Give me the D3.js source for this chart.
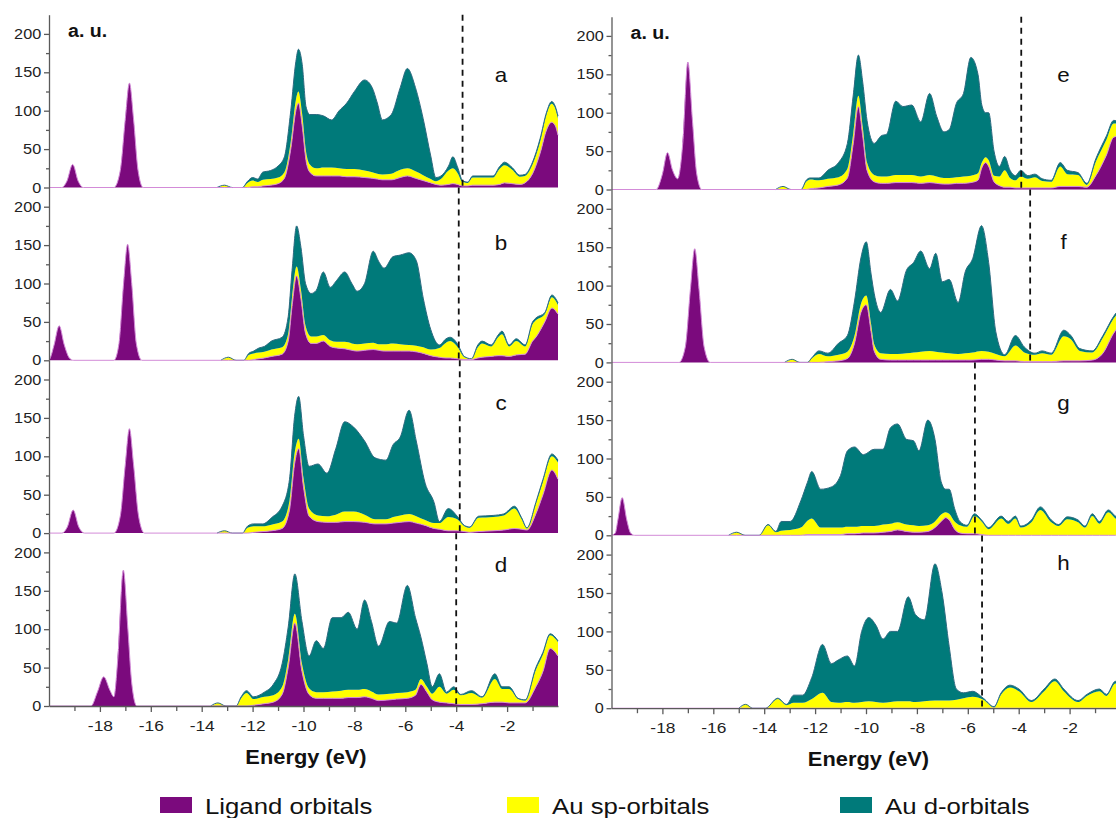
<!DOCTYPE html>
<html lang="en">
<head>
  <meta charset="UTF-8">
  <title>Projected DOS panels</title>
  <script src="https://d3js.org/d3.v7.min.js"></script>
  <style>
    body { margin: 0; background: #fff; }
    svg { display: block; font-family: Arial, "Liberation Sans", sans-serif; }
  </style>
</head>
<body>
<script>
  // ---- data, one energy grid + three layers per panel (a.u.) ----
  const energyA = [-20,-19.5,-19.3,-19.07,-18.85,-18.65,-17.45,-17.2,-17.0,-16.84,-16.68,-16.5,-16.3,-13.4,-13.1,-12.8,-12.4,-12.2,-12.0,-11.8,-11.6,-11.3,-11.0,-10.75,-10.5,-10.3,-10.2,-10.05,-9.9,-9.75,-9.5,-9.2,-8.9,-8.6,-8.3,-8.0,-7.6,-7.3,-7.1,-6.9,-6.55,-6.2,-5.92,-5.6,-5.3,-5.0,-4.8,-4.6,-4.3,-4.13,-3.95,-3.75,-3.55,-3.35,-2.55,-2.3,-2.1,-1.8,-1.5,-1.3,-1.0,-0.7,-0.45,-0.25,-0.1,0];
  const ligandA = [0,0,8,30,8,0,0,22,90,136,90,22,0, 0,0,0,0, 0,1,1,2,3,5,12,50,100,110,80,35,20,15,15,15,15,14,14,13,12,11,10,10,13,15,12,9,6,4,3,4,5,4,2,2,3,3,4,6,5,4,6,18,45,75,85,80,68];
  const spA = [0,0,0,0,0,0,0,0,0,0,0,0,0,0, 3, 0,0, 6,8,6,8,8,8,8,10,14,15,15,12,10,10,11,11,10,10,10,9,8,7,7,8,10,10,9,7,5,4,8,18,20,15,5,4,10,10,20,23,18,10,9,12,15,20,24,22,22];
  const dA = [0,0,0,0,0,0,0,0,0,0,0,0,0,0,0,0,0, 2,4,4,10,11,15,20,40,50,55,65,58,65,70,67,62,75,86,101,118,110,92,71,77,107,130,109,74,30,5,4,6,15,8,2,1,2,2,3,4,3,2,2,3,4,3,3,3,3];

  const energyB = [-20,-19.95,-19.8,-19.6,-19.4,-19.2,-19.05,-17.45,-17.25,-17.07,-16.91,-16.75,-16.57,-16.35,-13.25,-12.95,-12.65,-12.35,-12.15,-11.96,-11.75,-11.54,-11.26,-10.84,-10.6,-10.45,-10.27,-10.1,-9.92,-9.7,-9.5,-9.22,-8.95,-8.7,-8.38,-8.1,-7.89,-7.6,-7.26,-7.05,-6.83,-6.48,-6.2,-5.85,-5.57,-5.29,-5.0,-4.66,-4.4,-4.24,-3.96,-3.68,-3.4,-3.15,-2.98,-2.63,-2.35,-2.2,-1.92,-1.64,-1.29,-1.0,-0.87,-0.52,-0.24,0];
  const ligandB = [0,3,20,45,20,3,0,0,22,100,151,100,22,0, 0,0,0,0, 0,1,2,3,5,8,25,70,110,80, 35,22,22,25,18,16,15,13,12,13, 14,13,12,12,12,12,11,9,6,4, 3,3,2,1,1,3,4,5,6,6, 5,7,8,25,30,50,68,60];
  const spB = [0,0,0,0,0,0,0,0,0,0,0,0,0,0,0, 4, 0,0, 7,8,8,8,9,9,10,12,12,12, 10,9,9,8,8,8,9,9,9,9, 9,8,9,10,9,8,8,8,8,12, 20,22,16,3,1,14,18,13,24,28, 13,18,10,22,22,10,14,12];
  const dB = [0,0,0,0,0,0,0,0,0,0,0,0,0,0,0,0,0,0, 2,3,6,7,11,13,22,35,53,55, 55,56,60,82,69,80,91,78,69,78, 119,108,99,113,116,120,111,63,26,4, 5,5,4,1,0,3,3,2,3,4, 2,3,2,3,3,2,3,3];

  const energyC = [-20,-19.5,-19.28,-19.05,-18.83,-18.6,-17.45,-17.2,-17.0,-16.84,-16.68,-16.48,-16.25,-13.4,-13.1,-12.8,-12.4,-12.2,-11.96,-11.6,-11.26,-10.84,-10.55,-10.35,-10.19,-10.0,-9.78,-9.43,-9.08,-8.73,-8.38,-8.03,-7.6,-7.19,-6.76,-6.48,-6.2,-5.85,-5.57,-5.22,-4.87,-4.66,-4.31,-3.96,-3.68,-3.47,-3.12,-2.55,-2.13,-1.71,-1.43,-1.22,-0.87,-0.59,-0.24,0];
  const ligandC = [0,0,8,30,8,0,0,22,90,136,90,22,0, 0,0,0,0, 0,1,2,3,6,30,90,110,60,22, 15,14,14,15,15,14,12,12,13,14, 15,13,10,6,5,3,3,2,1,2, 3,4,6,5,4,25,50,82,70];
  const spC = [0,0,0,0,0,0,0,0,0,0,0,0,0,0, 3, 0,0, 7,8,7,8,9,12,14,13,12,10, 8,8,10,13,13,10,6,6,8,9, 10,9,7,7,8,18,15,7,6,18, 18,19,26,13,2,13,17,18,22];
  const dC = [0,0,0,0,0,0,0,0,0,0,0,0,0,0,0,0,0, 2,3,3,9,20,28,48,55,55,55, 67,56,86,117,110,96,80,77,94,102, 135,98,48,27,2,11,4,1,1,2, 2,2,3,2,1,2,3,3,3];

  const energyD = [-20,-18.35,-18.1,-17.85,-17.6,-17.45,-17.3,-17.08,-16.9,-16.75,-16.55,-13.65,-13.36,-13.05,-12.65,-12.45,-12.24,-11.96,-11.54,-11.19,-10.84,-10.6,-10.34,-10.06,-9.78,-9.5,-9.22,-8.87,-8.52,-8.24,-7.89,-7.6,-7.33,-7.05,-6.62,-6.34,-5.92,-5.6,-5.39,-5.15,-4.94,-4.66,-4.38,-4.1,-3.82,-3.4,-2.98,-2.48,-2.2,-1.92,-1.57,-1.29,-0.87,-0.59,-0.31,0];
  const ligandD = [0,0,18,38,20,12,60,177,100,30,0, 0,0,0,0, 0,0,1,3,5,15,50,108,45,15, 10,10,10,10,11,11,12,10,7,8, 9,10,14,28,18,8,5,4,3,2, 2,3,5,5,4,4,4,25,45,75,65];
  const spD = [0,0,0,0,0,0,0,0,0,0,0,0, 4, 0,0, 10,17,8,9,9,10,11,12,10,8, 8,8,9,10,10,10,10,9,8,8, 8,8,7,7,7,8,20,12,18,12, 15,8,30,17,18,5,3,22,22,17,18];
  const dD = [0,0,0,0,0,0,0,0,0,0,0,0,0,0,0, 2,3,3,6,14,30,42,52,55,42, 67,57,96,95,101,79,116,91,63,94, 91,139,94,55,30,9,17,2,4,1, 3,1,7,3,3,1,1,3,3,2,2];

  const energyE = [-20,-18.25,-18.0,-17.8,-17.6,-17.4,-17.2,-17.0,-16.82,-16.65,-16.45,-13.55,-13.26,-12.95,-12.55,-12.35,-12.2,-11.85,-11.5,-11.08,-10.73,-10.5,-10.3,-10.13,-9.96,-9.68,-9.4,-9.19,-8.83,-8.55,-8.2,-7.85,-7.5,-7.22,-6.94,-6.73,-6.45,-6.17,-5.88,-5.6,-5.45,-5.3,-5.18,-4.97,-4.76,-4.55,-4.34,-4.13,-3.92,-3.64,-3.36,-3.08,-2.72,-2.37,-2.09,-1.67,-1.32,-0.97,-0.55,-0.27,0];
  const ligandE = [0,0,20,48,25,14,60,166,90,20,0, 0,0,0,0, 0,1,2,4,6,15,60,108,70,25, 10,8,8,9,9,9,8,9,8,7, 7,8,8,9,12,28,35,30,10,5, 3,3,2,2,2,2,2,2,4,4, 4,3,18,45,68,70];
  const spE = [0,0,0,0,0,0,0,0,0,0,0,0, 4, 0,0, 10,12,10,10,10,12,13,14,12,10, 9,9,9,10,10,10,9,10,9,8, 8,8,9,9,9,7,7,8,8,12, 22,12,10,15,12,14,9,8,26,16, 15,3,18,20,18,15];
  const dE = [0,0,0,0,0,0,0,0,0,0,0,0,0,0,0, 2,2,3,11,19,33,50,53,58,55, 41,53,55,96,89,91,71,106,78,60, 63,96,108,154,129,75,58,62,32,13, 18,10,6,8,4,4,3,2,5,5, 3,2,4,5,4,3];

  const energyF = [-20,-17.35,-17.1,-16.9,-16.73,-16.56,-16.36,-16.12,-13.2,-12.9,-12.6,-12.3,-12.13,-11.85,-11.5,-11.08,-10.73,-10.45,-10.2,-9.99,-9.8,-9.68,-9.42,-9.04,-8.76,-8.41,-8.13,-7.85,-7.5,-7.26,-7.0,-6.73,-6.38,-6.1,-5.81,-5.46,-5.18,-4.9,-4.55,-4.13,-3.78,-3.36,-3.08,-2.72,-2.23,-1.95,-1.6,-1.11,-0.69,-0.27,0];
  const ligandF = [0,0,20,95,148,95,20,0, 0,0,0,0, 0,0,1,2,5,25,65,75, 40,15,4,3,3,3,3,3,3,3, 3,3,3,3,3,4,4,3,2,2, 1,1,1,1,2,2,2,3,12,38,50];
  const spF = [0,0,0,0,0,0,0,0,0, 4, 0,0, 5,11,7,8,9,10,11,12, 10,9,8,8,8,9,10,11,12,11, 10,9,8,9,10,11,10,8,6,20, 12,9,11,9,32,28,13,10,20,19,18];
  const dF = [0,0,0,0,0,0,0,0,0,0,0,0, 1,4,4,15,21,45,60,70, 65,66,53,84,69,108,117,131,107,128, 92,96,67,106,122,163,116,29,2,13, 7,2,3,2,8,5,3,2,3,3,3];

  const energyG = [-20,-19.85,-19.75,-19.58,-19.4,-19.25,-19.1,-15.4,-15.08,-14.75,-14.2,-13.85,-13.54,-13.33,-12.98,-12.56,-12.3,-12.13,-11.78,-11.36,-11.0,-10.73,-10.45,-10.1,-9.68,-9.33,-9.04,-8.76,-8.41,-8.13,-7.92,-7.57,-7.29,-7.05,-6.87,-6.73,-6.52,-6.31,-6.03,-5.74,-5.46,-5.18,-4.69,-4.41,-4.13,-3.92,-3.5,-3.15,-2.72,-2.44,-2.09,-1.67,-1.39,-1.11,-0.83,-0.48,-0.2,0];
  const ligandG = [0,3,20,49,20,3,0, 0,0,0,0, 0,0,0,0,0,1,1,1,1,1, 2,2,3,3,4,5,7,5,4,4, 5,10,18,23,20,8,3,2,2,1, 0,0,0,0,0,0,0,0,0,0, 0,0,0,0,0,0,0];
  const spG = [0,0,0,0,0,0,0,0, 4, 0,0, 13,4,6,7,10,18,21,9,9,9, 9,9,9,9,10,10,10,9,9,8, 8,8,9,7,8,10,10,9,23,17, 8,22,15,22,10,17,33,17,12,21, 17,10,25,15,30,22,18];
  const dG = [0,0,0,0,0,0,0,0,0,0,0, 1,1,12,11,35,50,61,50,53,68, 99,104,93,100,98,125,128,111,110,98, 137,107,43,30,32,17,5,2,3,2, 2,3,3,3,2,3,4,3,2,3, 3,2,3,3,3,3,3];

  const energyH = [-20,-15.0,-14.73,-14.45,-13.95,-13.47,-13.12,-12.84,-12.49,-12.13,-11.71,-11.36,-11.08,-10.73,-10.45,-10.17,-9.89,-9.61,-9.33,-9.04,-8.76,-8.34,-8.06,-7.71,-7.29,-7.01,-6.73,-6.45,-6.17,-5.81,-5.39,-4.97,-4.69,-4.34,-3.99,-3.5,-3.0,-2.58,-2.23,-1.67,-1.32,-0.83,-0.55,-0.2,0];
  const ligandH = [0,0,0,0,0, 0,0,0,0,0, 0,0,0,0,0,0,0,0,0,0, 0,0,0,0,0,0,0,0,0,0, 0,0,0,0,0,0,0,0,0,0, 0,0,0,0,0];
  const spH = [0,0,5,0,0, 12,4,7,7,12, 20,8,7,8,7,8,9,8,7,8, 9,9,8,9,10,10,10,11,13,15, 11,1,18,27,22,8,22,35,22,8, 16,22,16,32,30];
  const dH = [0,0,0,0,0, 1,1,10,10,28, 63,50,56,60,48,92,109,100,83,92, 91,136,114,106,178,140,70,14,7,7, 2,1,2,3,3,2,3,3,3,2, 2,3,2,3,3];

  const panelLetters = ["a", "b", "c", "d", "e", "f", "g", "h"];
  const fermiLevels = [-3.75, -3.9, -3.86, -4.0, -3.9, -3.55, -5.72, -5.44];
  const yTicks = [0, 50, 100, 150, 200];
  const yMinor = [25, 75, 125, 175];
  const xTicks = [-18, -16, -14, -12, -10, -8, -6, -4, -2];
  const xMinor = [-19, -17, -15, -13, -11, -9, -7, -5, -3, -1];
  const legendLabels = ["Ligand orbitals", "Au sp-orbitals", "Au d-orbitals"];

  // ---- layout ----
  const width = 1116, height = 818;
  const panelH = 172.8;
  const columns = [
    { x0: 49, x1: 558, bottoms: [187.5, 360.3, 533.1, 706] },
    { x0: 611.5, x1: 1120.5, bottoms: [189.5, 362.4, 535.3, 708.2] }
  ];
  const fills = ["#7b0a7d", "#ffff00", "#007a7a"];
  const letterLevel = [146, 153, 169, 184, 149, 157, 172, 189];
  const wide = "scale(1.12,1)"; // the lettering of the original is a little stretched

  const svg = d3.select("body").append("svg")
    .attr("width", width)
    .attr("height", height);

  svg.append("rect").attr("width", width).attr("height", height).attr("fill", "#fff");

  const panels = [
    [energyA, ligandA, spA, dA], [energyB, ligandB, spB, dB],
    [energyC, ligandC, spC, dC], [energyD, ligandD, spD, dD],
    [energyE, ligandE, spE, dE], [energyF, ligandF, spF, dF],
    [energyG, ligandG, spG, dG], [energyH, ligandH, spH, dH]
  ];

  function label(parent, x, y, txt, size, bold, anchor) {
    return parent.append("text")
      .attr("transform", `translate(${x},${y}) ${wide}`)
      .attr("text-anchor", anchor || "start")
      .attr("font-size", size)
      .attr("font-weight", bold ? "bold" : "normal")
      .attr("fill", "#111")
      .text(txt);
  }

  panels.forEach((p, i) => {
    const col = columns[Math.floor(i / 4)];
    const row = i % 4;
    const bottom = col.bottoms[row];
    const x = d3.scaleLinear([-20, 0], [col.x0, col.x1]);
    const y = d3.scaleLinear([0, 225], [bottom, bottom - panelH]);

    const [E, L, S, D] = p;
    if (L.length !== E.length || S.length !== E.length || D.length !== E.length)
      console.error("length mismatch in panel", panelLetters[i], E.length, L.length, S.length, D.length);

    const rows = E.map((e, k) => ({ e, lig: L[k], sp: S[k], d: D[k] }));
    // a point carries the teal outline if it or a neighbour has gold states
    rows.forEach((r, k) => {
      const on = j => j >= 0 && j < rows.length && rows[j].sp + rows[j].d > 0;
      r.top = on(k - 1) || on(k) || on(k + 1);
    });
    const stacked = d3.stack().keys(["lig", "sp", "d"])(rows);

    const g = svg.append("g");
    const area = d3.area()
      .x(d => x(d.data.e))
      .y0(d => y(d[0]))
      .y1(d => y(d[1]))
      .curve(d3.curveMonotoneX);

    g.selectAll("path.layer")
      .data(stacked)
      .join("path")
      .attr("class", "layer")
      .attr("d", area)
      .attr("fill", (d, k) => fills[k]);

    // thin outline on top of the total curve
    g.append("path")
      .datum(stacked[2])
      .attr("fill", "none")
      .attr("stroke", "#2c6a80")
      .attr("stroke-width", 1)
      .attr("d", d3.line()
        .defined(d => d.data.top)
        .x(d => x(d.data.e)).y(d => y(d[1]))
        .curve(d3.curveMonotoneX));

    // pinkish ligand curve, which is also the zero line
    g.append("path")
      .datum(stacked[0])
      .attr("fill", "none")
      .attr("stroke", "#d38bd8")
      .attr("stroke-width", 1)
      .attr("d", d3.line()
        .x(d => x(d.data.e)).y(d => y(d[1]))
        .curve(d3.curveMonotoneX));

    // Fermi level
    g.append("line")
      .attr("x1", x(fermiLevels[i])).attr("x2", x(fermiLevels[i]))
      .attr("y1", y(225)).attr("y2", y(0))
      .attr("stroke", "#111")
      .attr("stroke-width", 1.8)
      .attr("stroke-dasharray", "6,5");

    // y axis
    const ya = g.append("g").attr("transform", `translate(${col.x0},0)`)
      .call(d3.axisLeft(y).tickValues(yTicks).tickSize(5).tickSizeOuter(0).tickPadding(2));
    ya.selectAll("text")
      .attr("font-size", 14.5).attr("fill", "#222")
      .attr("font-family", "Arial, sans-serif")
      .attr("transform", wide);
    const ym = g.append("g").attr("transform", `translate(${col.x0},0)`)
      .call(d3.axisLeft(y).tickValues(yMinor).tickSize(3).tickFormat(""));
    ym.select(".domain").remove();
    g.selectAll(".domain, .tick line").attr("stroke", "#5a5a5a").attr("stroke-width", 1.3);

    // panel letter
    label(g, col.x0 + 452, y(letterLevel[i]) + 7, panelLetters[i], 20, false, "middle");

    if (row === 0) label(g, col.x0 + 19, bottom - panelH + 22, "a. u.", 17.5, true);

    if (row === 3) {
      const xa = g.append("g").attr("transform", `translate(0,${bottom})`)
        .call(d3.axisBottom(x).tickValues(xTicks).tickSize(6).tickSizeOuter(0).tickPadding(8).tickFormat(d => String(d)));
      xa.selectAll("text")
        .attr("font-size", 15.5).attr("fill", "#222")
        .attr("font-family", "Arial, sans-serif")
        .attr("transform", wide);
      const xm = g.append("g").attr("transform", `translate(0,${bottom})`)
        .call(d3.axisBottom(x).tickValues(xMinor).tickSize(5).tickFormat(""));
      xm.select(".domain").remove();
      g.selectAll(".domain, .tick line").attr("stroke", "#5a5a5a").attr("stroke-width", 1.3);

      label(g, col.x0 + 257, bottom + 58, "Energy (eV)", 19.5, true, "middle");
    }
  });

  // ---- legend ----
  const legendX = [160, 507, 840];
  const legend = svg.append("g");
  legendLabels.forEach((lab, k) => {
    legend.append("rect")
      .attr("x", legendX[k]).attr("y", 797)
      .attr("width", 32).attr("height", 16)
      .attr("fill", fills[k]);
    label(legend, legendX[k] + 45, 814, lab, 23);
  });
</script>
</body>
</html>
